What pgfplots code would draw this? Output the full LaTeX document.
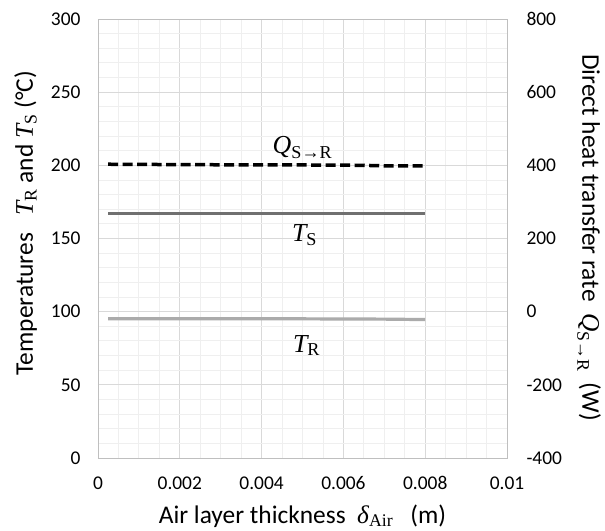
\documentclass[border=0pt]{standalone}
\usepackage{pgfplots}
\pgfplotsset{compat=1.18}
\usepackage{amsmath}
\usepackage{fontspec}
\setmainfont{Carlito}
\newfontfamily\tms{Liberation Serif}
\definecolor{gridmaj}{HTML}{D9D9D9}
\definecolor{gridmin}{HTML}{EFEFEF}
\definecolor{axisgray}{HTML}{BFBFBF}
\definecolor{tsgray}{HTML}{707070}
\definecolor{trgray}{HTML}{ABABAB}
\newcommand{\TT}[1]{$\text{\tms\itshape T}_{\text{\tms #1}}$}
\newcommand{\QQ}{$\text{\tms\itshape Q}_{\text{\tms S→R}}$}
\newcommand{\DA}{$\text{\tms\itshape δ}_{\text{\tms Air}}$}
\begin{document}
\begin{tikzpicture}
\useasboundingbox (-98bp,-73bp) rectangle (507bp,458bp);
\begin{axis}[
  at={(0,0)}, anchor=south west,
  scale only axis, width=409bp, height=439bp,
  xmin=0, xmax=0.01, ymin=0, ymax=300,
  xtick={0,0.002,0.004,0.006,0.008,0.01},
  xticklabels={0,0.002,0.004,0.006,0.008,0.01},
  scaled x ticks=false,
  minor x tick num=3,
  ytick={0,50,100,150,200,250,300},
  minor y tick num=4,
  xtick pos=bottom, ytick pos=left,
  grid=both,
  major grid style={draw=gridmaj, line width=0.9bp},
  minor grid style={draw=gridmin, line width=0.9bp},
  axis line style={draw=axisgray, line width=0.9bp},
  major tick length=0pt, minor tick length=0pt,
  tick label style={font=\fontsize{19.5}{22}\selectfont},
  /pgf/number format/assume math mode=true,
  yticklabel style={xshift=-14bp},
  xticklabel style={yshift=-15bp},
  label style={font=\fontsize{25.5}{29}\selectfont},
  xlabel={Air layer thickness\ \ \DA\ \ \ (m)},
  xlabel style={at={(axis description cs:0.5,0)}, anchor=base, yshift=-65bp},
  ylabel={Temperatures\ \ \ \TT{R} and \TT{S} (°C)},
  ylabel style={at={(axis description cs:-0.159,0.535)}, anchor=base},
  clip=false,
]
\addplot[tsgray, line width=3.2bp] coordinates {
 (0.00025,167) (0.001,167) (0.002,167) (0.003,167) (0.004,167)
 (0.005,167) (0.006,167) (0.007,167) (0.008,167)};
\addplot[trgray, line width=3.2bp] coordinates {
 (0.00025,95.2) (0.001,95.2) (0.002,95.2) (0.003,95.1) (0.004,95.1)
 (0.005,95.1) (0.006,95.0) (0.007,94.9) (0.008,94.6)};
\node[font=\fontsize{26}{30}\selectfont, anchor=base] at (axis cs:0.00505,148) {\TT{S}};
\node[font=\fontsize{26}{30}\selectfont, anchor=base] at (axis cs:0.0051,72.4) {\TT{R}};
\node[font=\fontsize{26}{30}\selectfont, anchor=base] at (axis cs:0.0050,208.4) {\QQ};
\end{axis}
\begin{axis}[
  at={(0,0)}, anchor=south west,
  scale only axis, width=409bp, height=439bp,
  xmin=0, xmax=0.01, ymin=-400, ymax=800,
  ytick={-400,-200,0,200,400,600,800},
  axis y line*=right, hide x axis,
  axis line style={draw=axisgray, line width=0.9bp},
  major tick length=0pt, minor tick length=0pt,
  tick label style={font=\fontsize{19.5}{22}\selectfont},
  /pgf/number format/assume math mode=true,
  yticklabel style={xshift=16bp},
  label style={font=\fontsize{25.5}{29}\selectfont},
  ylabel={Direct heat transfer rate\ \ \QQ\ \ (W)},
  ylabel style={at={(axis description cs:1.184,0.502)}, anchor=base, rotate=180},
]
\addplot[black, line width=3.5bp, dash pattern=on 10bp off 4.5bp] coordinates {
 (0.00025,403) (0.001,402.5) (0.002,402) (0.003,401.5) (0.004,401)
 (0.005,401) (0.006,400.5) (0.0065,400) (0.007,398.5) (0.008,398.5)};
\end{axis}
\end{tikzpicture}
\end{document}
